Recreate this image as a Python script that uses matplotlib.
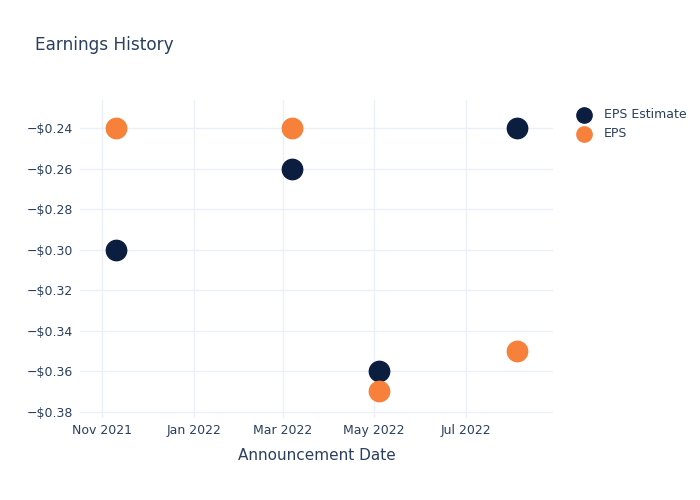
import numpy as np
import pandas as pd
import matplotlib
matplotlib.use('Agg')
import matplotlib.pyplot as plt
import matplotlib.dates as mdates
from matplotlib.ticker import FuncFormatter

dates = pd.to_datetime(['2021-11-10', '2022-03-07', '2022-05-04', '2022-08-04'])
eps_estimate = [-0.30, -0.26, -0.36, -0.24]
eps_actual = [-0.24, -0.24, -0.37, -0.35]

txt = '#2a3f5f'
grid = '#ebf0f8'

fig = plt.figure(figsize=(7, 5), dpi=100)
ax = fig.add_axes([0.114, 0.164, 0.676, 0.636])

ax.scatter(dates, eps_estimate, s=215, color='#0c1e40', label='EPS Estimate', zorder=3)
ax.scatter(dates, eps_actual, s=215, color='#f7803a', label='EPS', zorder=3)

ax.set_xlim(pd.Timestamp('2021-10-17'), pd.Timestamp('2022-08-28'))
ax.set_ylim(-0.3831, -0.226)
ax.set_yticks(np.arange(-0.38, -0.239, 0.02))
ax.yaxis.set_major_formatter(FuncFormatter(lambda v, p: '\u2212$%.2f' % abs(v)))
ax.xaxis.set_major_locator(mdates.MonthLocator(bymonth=[1, 3, 5, 7, 11]))
ax.xaxis.set_major_formatter(mdates.DateFormatter('%b %Y'))

ax.grid(True, color=grid, linewidth=1)
ax.set_axisbelow(True)
for s in ax.spines.values():
    s.set_visible(False)
ax.tick_params(length=0, labelsize=9, colors=txt, pad=5)
ax.tick_params(axis='x', pad=4)
ax.set_xlabel('Announcement Date', fontsize=11, color=txt, labelpad=8)

fig.text(0.05, 0.9, 'Earnings History', fontsize=12.2, color=txt)

leg = ax.legend(loc='upper left', bbox_to_anchor=(1.028, 0.99), frameon=False,
                fontsize=9, labelcolor=txt, handletextpad=0.6, borderaxespad=0,
                labelspacing=0.5, markerscale=0.75)

fig.savefig('out.png', dpi=100)
